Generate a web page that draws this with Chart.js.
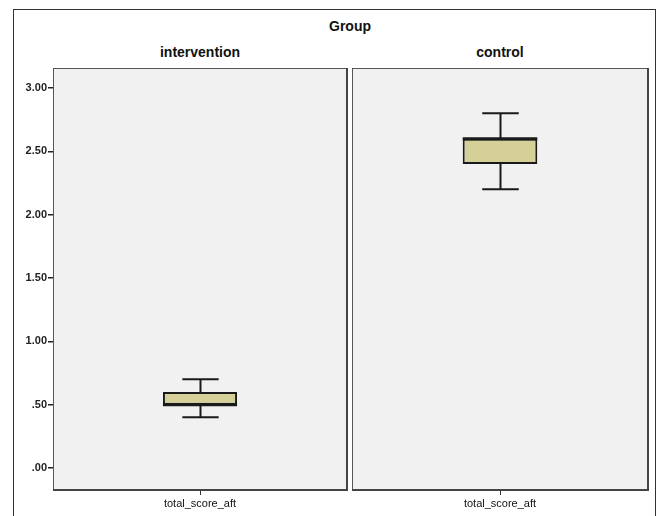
<!DOCTYPE html>
<html>
<head>
<meta charset="utf-8">
<script src="https://cdn.jsdelivr.net/npm/chart.js@4.4.1/dist/chart.umd.min.js"></script>
<style>
  html, body { margin: 0; padding: 0; background: #fff; overflow: hidden; }
  body { width: 659px; height: 516px; position: relative; font-family: "Liberation Sans", Arial, sans-serif; }
  .frame { position: absolute; left: 13px; top: 9px; width: 643px; height: 530px; border: 1px solid #333; box-sizing: border-box; }
  .title { position: absolute; font-weight: bold; font-size: 14px; color: #111; text-align: center; }
  .panel { position: absolute; }
</style>
</head>
<body>
<div class="frame"></div>
<div class="title" style="left:300px; top:18px; width:100px;">Group</div>
<div class="title" style="left:100px; top:44px; width:200px;">intervention</div>
<div class="title" style="left:400px; top:44px; width:200px;">control</div>
<div class="panel" style="left:13px; top:60px; width:340px; height:456px;"><canvas id="c1"></canvas></div>
<div class="panel" style="left:346px; top:60px; width:310px; height:456px;"><canvas id="c2"></canvas></div>
<script>
// Box plot summaries per group: whisker low, Q1, median, Q3, whisker high
const groups = ['intervention', 'control'];
const variableLabel = ['total_score_aft'];
const whiskerLow = [0.40, 2.20];
const q1 = [0.50, 2.40];
const median = [0.50, 2.60];
const q3 = [0.60, 2.60];
const whiskerHigh = [0.70, 2.80];
const yTicks = [0, 0.5, 1, 1.5, 2, 2.5, 3];
const yMin = -0.174, yMax = 3.158;

const boxFill = '#d4d098';
const lineColor = '#1a1a1a';

// Panel background and frame around the plotting area
const panelFrame = {
  id: 'panelFrame',
  beforeDraw(chart) {
    const { ctx, chartArea: a } = chart;
    ctx.save();
    ctx.fillStyle = '#f1f1f1';
    ctx.fillRect(a.left, a.top, a.right - a.left, a.bottom - a.top);
    ctx.restore();
  },
  afterDraw(chart) {
    const { ctx, chartArea: a } = chart;
    ctx.save();
    ctx.strokeStyle = '#555';
    ctx.lineWidth = 1;
    ctx.strokeRect(a.left + 0.5, a.top + 0.5, a.right - a.left - 1, a.bottom - a.top - 1);
    ctx.strokeStyle = '#444';
    ctx.lineWidth = 2;
    ctx.beginPath();
    ctx.moveTo(a.left, a.bottom);
    ctx.lineTo(a.right, a.bottom);
    ctx.lineTo(a.right, a.top);
    ctx.stroke();
    ctx.restore();
  }
};

// Whiskers, caps and median line for each box
const boxParts = {
  id: 'boxParts',
  afterDatasetsDraw(chart) {
    const g = chart.options.plugins.boxParts.group;
    const y = chart.scales.y;
    const meta = chart.getDatasetMeta(0);
    const { ctx } = chart;
    meta.data.forEach((bar) => {
      const x = Math.round(bar.x) + 0.5;
      const half = bar.width / 2;
      const capHalf = bar.width * 0.245;
      const yLo = y.getPixelForValue(whiskerLow[g]);
      const yHi = y.getPixelForValue(whiskerHigh[g]);
      const yQ1 = y.getPixelForValue(q1[g]);
      const yQ3 = y.getPixelForValue(q3[g]);
      const yMed = y.getPixelForValue(median[g]);
      ctx.save();
      ctx.strokeStyle = lineColor;
      ctx.lineWidth = 2;
      ctx.beginPath();
      ctx.moveTo(x, yLo); ctx.lineTo(x, yQ1);
      ctx.moveTo(x, yHi); ctx.lineTo(x, yQ3);
      ctx.moveTo(x - capHalf, yLo); ctx.lineTo(x + capHalf, yLo);
      ctx.moveTo(x - capHalf, yHi); ctx.lineTo(x + capHalf, yHi);
      ctx.stroke();
      ctx.lineWidth = 3;
      ctx.beginPath();
      ctx.moveTo(bar.x - half, yMed); ctx.lineTo(bar.x + half, yMed);
      ctx.stroke();
      ctx.restore();
    });
  }
};

function fmt(v) {
  return Number(v).toFixed(2).replace(/^0/, '');
}

function makePanel(id, g, showY, padLeft, padRight) {
  return new Chart(document.getElementById(id), {
    type: 'bar',
    data: {
      labels: variableLabel,
      datasets: [{
        data: [[q1[g], q3[g]]],
        backgroundColor: boxFill,
        borderColor: lineColor,
        borderWidth: 2,
        borderSkipped: false,
        barPercentage: 0.252,
        categoryPercentage: 1
      }]
    },
    options: {
      responsive: true,
      maintainAspectRatio: false,
      animation: false,
      layout: { padding: { top: 8, left: padLeft, right: padRight, bottom: 0 } },
      plugins: {
        legend: { display: false },
        tooltip: { enabled: false },
        boxParts: { group: g }
      },
      scales: {
        x: {
          type: 'category',
          grid: { drawOnChartArea: false, drawTicks: true, tickLength: 5, color: '#333', offset: false },
          border: { display: false },
          ticks: { color: '#111', font: { family: 'Liberation Sans', size: 11 }, padding: 2, maxRotation: 0 },
          afterFit(scale) { scale.height = 26; }
        },
        y: {
          display: showY,
          min: yMin,
          max: yMax,
          grid: { drawOnChartArea: false, drawTicks: true, tickLength: 5, color: '#222', lineWidth: 1.5 },
          border: { display: false },
          ticks: {
            color: '#222',
            font: { family: 'Liberation Sans', size: 11, weight: 'bold' },
            padding: 1,
            callback: (v) => fmt(v)
          },
          afterBuildTicks(scale) { scale.ticks = yTicks.map((v) => ({ value: v })); },
          afterFit(scale) { if (showY) scale.width = 40; }
        }
      }
    },
    plugins: [panelFrame, boxParts]
  });
}

makePanel('c1', 0, true, 0, 6);
makePanel('c2', 1, false, 6, 8);
</script>
</body>
</html>
